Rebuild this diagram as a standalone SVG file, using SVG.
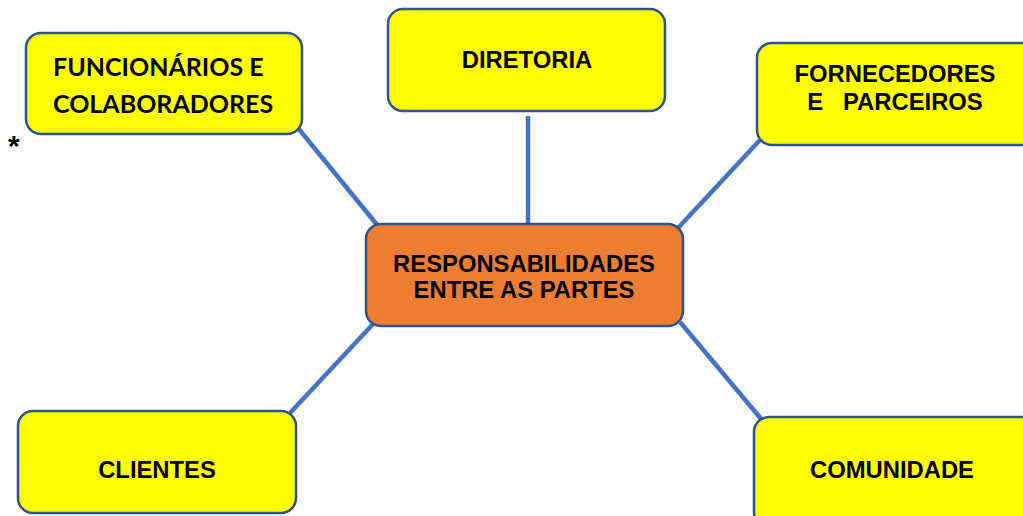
<svg xmlns="http://www.w3.org/2000/svg" width="1023" height="516" viewBox="0 0 1023 516">
<style>
.box{fill:#FFFF00;stroke:#2F528F;stroke-width:2.5}
.ctr{fill:#ED7D31;stroke:#2F528F;stroke-width:2.5}
.t{font-family:"Liberation Sans",Arial,sans-serif;font-weight:bold;font-size:23.8px;fill:#000;text-anchor:middle}
.c{font-family:Lato,"Open Sans",sans-serif;font-weight:bold;font-size:25px;fill:#000}
.ln{stroke:#4472C4;stroke-width:4.5;fill:none}
</style>
<rect width="1023" height="516" fill="#fff"/>
<g id="connectors">
<line class="ln" x1="298" y1="128" x2="378" y2="226"/>
<line class="ln" x1="528" y1="116" x2="528" y2="226"/>
<line class="ln" x1="760" y1="140" x2="678" y2="228"/>
<line class="ln" x1="290" y1="413" x2="374" y2="323"/>
<line class="ln" x1="680" y1="322" x2="762" y2="420"/>
</g>
<g id="funcionarios">
<rect class="box" x="26" y="33" width="276" height="101" rx="15"/>
<text class="c" x="53" y="76">FUNCIONÁRIOS E</text>
<text class="c" x="53" y="113">COLABORADORES</text>
</g>
<g id="diretoria">
<rect class="box" x="388" y="9" width="277" height="102" rx="15"/>
<text class="t" x="527" y="68">DIRETORIA</text>
</g>
<g id="fornecedores">
<rect class="box" x="757" y="43" width="280" height="102" rx="15"/>
<text class="t" x="895" y="82">FORNECEDORES</text>
<text class="t" x="895" y="110" xml:space="preserve">E   PARCEIROS</text>
</g>
<g id="centro">
<rect class="ctr" x="366" y="224" width="317" height="102" rx="15"/>
<text class="t" x="524" y="272">RESPONSABILIDADES</text>
<text class="t" x="524" y="298">ENTRE AS PARTES</text>
</g>
<g id="clientes">
<rect class="box" x="18" y="411" width="278" height="102" rx="15"/>
<text class="t" x="157" y="478">CLIENTES</text>
</g>
<g id="comunidade">
<rect class="box" x="754" y="417" width="285" height="110" rx="15"/>
<text class="t" x="892" y="478">COMUNIDADE</text>
</g>
<text x="8" y="156" font-family="'Liberation Sans',Arial,sans-serif" font-weight="bold" font-size="30" fill="#000">*</text>
</svg>
